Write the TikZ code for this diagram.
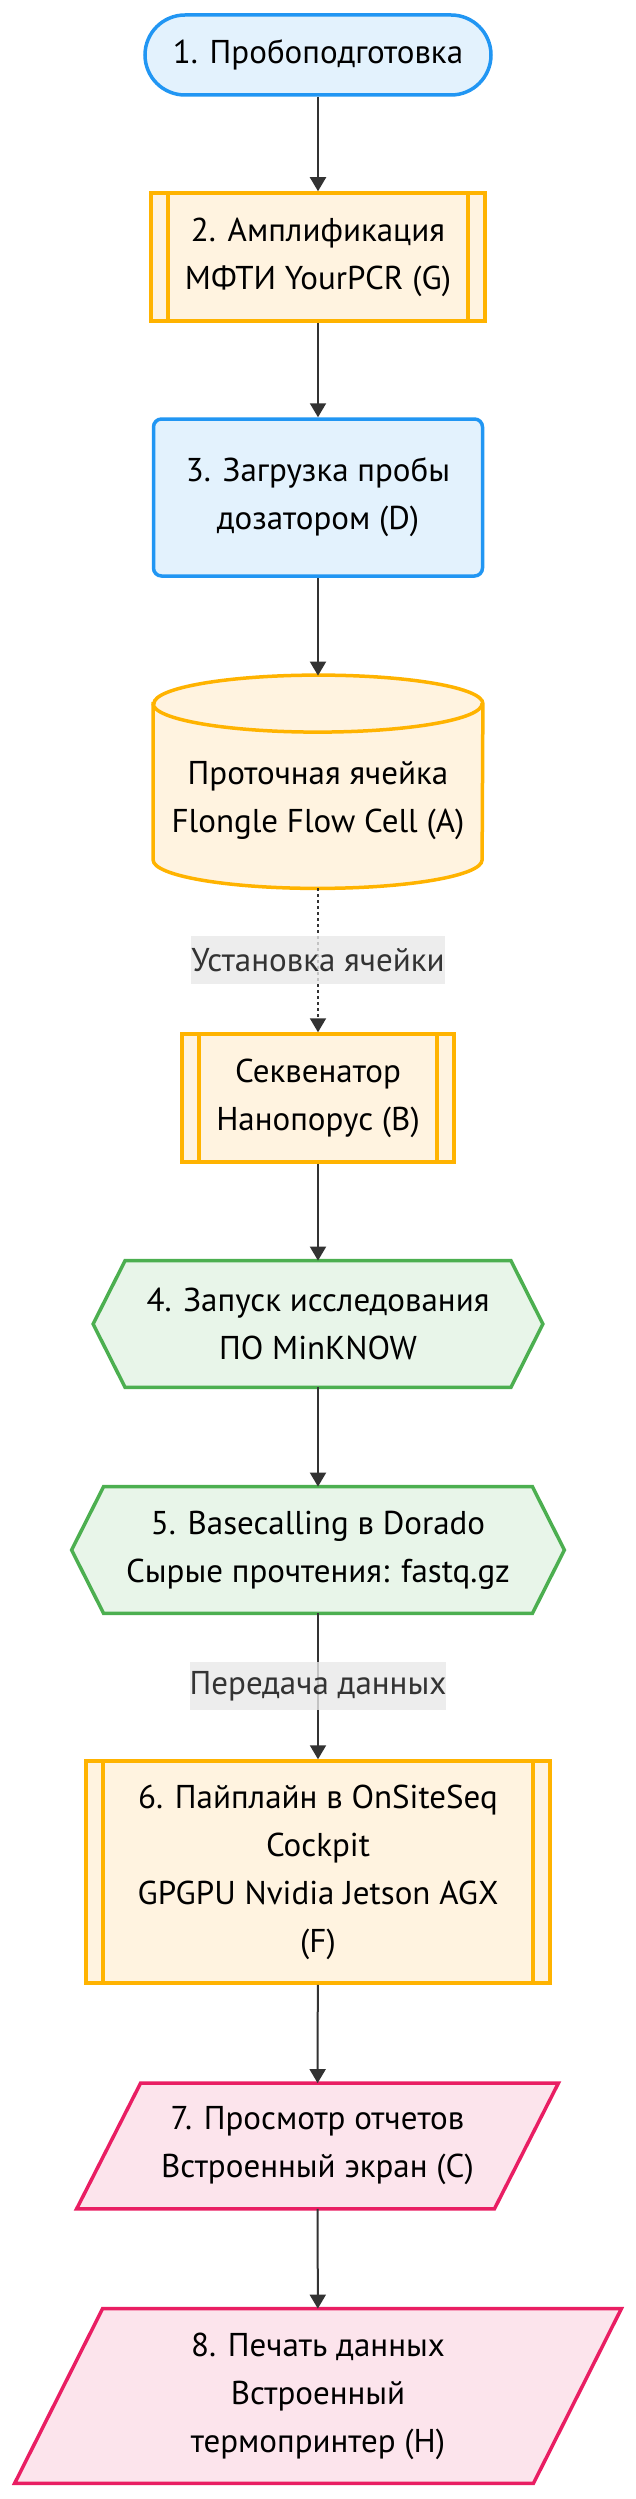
\documentclass[tikz,border=0pt]{standalone}
\usepackage{fontspec}
\setmainfont{PT Sans}
\usetikzlibrary{arrows.meta,backgrounds}

\definecolor{bluefill}{HTML}{E3F2FD}
\definecolor{blueline}{HTML}{2196F3}
\definecolor{orangefill}{HTML}{FFF3E0}
\definecolor{orangeline}{HTML}{FFB300}
\definecolor{greenfill}{HTML}{E8F5E9}
\definecolor{greenline}{HTML}{4CAF50}
\definecolor{pinkfill}{HTML}{FCE4EC}
\definecolor{pinkline}{HTML}{E91E63}
\definecolor{edgegray}{HTML}{333333}
\definecolor{labelgray}{HTML}{E8E8E8}

\tikzset{
  box/.style={align=center, inner sep=0pt, text=black},
  stadium/.style={box, draw=blueline, fill=bluefill, line width=1.75pt, rounded corners=20pt},
  roundbox/.style={box, draw=blueline, fill=bluefill, line width=1.75pt, rounded corners=4pt},
  subproc/.style={box, draw=orangeline, fill=orangefill, line width=1.75pt,
    path picture={
      \draw[orangeline, line width=1.75pt]
        ([xshift=8.5pt]path picture bounding box.north west) -- ([xshift=8.5pt]path picture bounding box.south west)
        ([xshift=-8.5pt]path picture bounding box.north east) -- ([xshift=-8.5pt]path picture bounding box.south east);
    }},
  cellline/.style={draw=orangeline, fill=orangefill, line width=1.75pt},
  hexline/.style={draw=greenline, fill=greenfill, line width=1.75pt},
  slantline/.style={draw=pinkline, fill=pinkfill, line width=1.75pt},
  flow/.style={->, draw=edgegray, line width=1pt},
  edgelabel/.style={fill=labelgray, fill opacity=0.8, text opacity=1, text=edgegray,
    inner sep=0pt, minimum height=24pt},
}

\begin{document}
\begin{tikzpicture}[x=0.5pt, y=-0.5pt, >={Triangle[length=7pt, width=8pt]},
    font=\fontsize{16.5pt}{24pt}\selectfont]
    \useasboundingbox (0,0) rectangle (636,2499);

    \node[stadium, minimum width=173pt, minimum height=40pt] (prep) at (318,55) {1. Пробоподготовка};
    \node[subproc, minimum width=167pt, minimum height=64pt] (pcr) at (318,257) {2. Амплификация\\МФТИ YourPCR (G)};
    \node[roundbox, minimum width=164.5pt, minimum height=78.5pt] (loader) at (318,497.5) {3. Загрузка пробы\\дозатором (D)};
    \node[box, minimum width=164.5pt, minimum height=87pt] (cell) at (318,801) {Проточная ячейка\\Flongle Flow Cell (A)};
    \node[subproc, minimum width=136pt, minimum height=64pt] (seq) at (318,1098) {Секвенатор\\Нанопорус (B)};
    \node[box, minimum width=224.5pt, minimum height=63pt] (run) at (318,1324) {4. Запуск исследования\\ПО MinKNOW};
    \node[box, minimum width=246pt, minimum height=63pt] (dorado) at (318,1550) {5. Basecalling в Dorado\\Сырые прочтения: fastq.gz};
    \node[subproc, minimum width=232pt, minimum height=111pt] (pipe) at (318,1872) {6. Пайплайн в OnSiteSeq\\Cockpit\\GPGPU Nvidia Jetson AGX\\(F)};
    \node[box, minimum width=240.5pt, minimum height=62.5pt] (screen) at (317.5,2146) {7. Просмотр отчетов\\Встроенный экран (C)};
    \node[box, minimum width=303pt, minimum height=87pt] (printer) at (318,2396) {8. Печать данных\\Встроенный\\термопринтер (H)};

    % shapes behind the text
    \begin{pgfonlayer}{background}
        \draw[cellline] ([yshift=5pt]cell.north west) -- ([yshift=14.25pt]cell.south west)
            arc[start angle=180, end angle=360, x radius=82.25pt, y radius=14.25pt]
            -- ([yshift=5pt]cell.north east)
            arc[start angle=0, end angle=180, x radius=82.25pt, y radius=14.25pt] -- cycle;
        \draw[cellline, fill=none] ([yshift=5pt]cell.north west)
            arc[start angle=180, end angle=360, x radius=82.25pt, y radius=14.25pt];

        \draw[hexline] (run.west) -- ([xshift=16pt]run.north west) -- ([xshift=-16pt]run.north east)
            -- (run.east) -- ([xshift=-16pt]run.south east) -- ([xshift=16pt]run.south west) -- cycle;
        \draw[hexline] (dorado.west) -- ([xshift=16pt]dorado.north west) -- ([xshift=-16pt]dorado.north east)
            -- (dorado.east) -- ([xshift=-16pt]dorado.south east) -- ([xshift=16pt]dorado.south west) -- cycle;

        \draw[slantline] (screen.south west) -- ([xshift=32pt]screen.north west) -- (screen.north east)
            -- ([xshift=-32pt]screen.south east) -- cycle;
        \draw[slantline] (printer.south west) -- ([xshift=44pt]printer.north west) -- (printer.north east)
            -- ([xshift=-44pt]printer.south east) -- cycle;
    \end{pgfonlayer}

    \draw[flow] (prep) -- (pcr);
    \draw[flow] (pcr) -- (loader);
    \draw[flow] (loader) -- ([yshift=19pt]cell.north);
    \draw[flow, dash pattern=on 1.5pt off 1.5pt] (cell) -- node[edgelabel] (mount) {Установка ячейки} (seq);
    \draw[flow] (seq) -- (run);
    \draw[flow] (run) -- (dorado);
    \draw[flow] (dorado) -- node[edgelabel] (transfer) {Передача данных} (pipe);
    \draw[flow] (pipe) -- (screen);
    \draw[flow] (screen) -- (printer);
\end{tikzpicture}
\end{document}
